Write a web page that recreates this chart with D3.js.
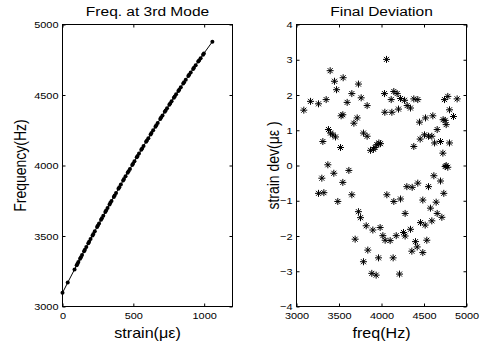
<!DOCTYPE html>
<html>
<head>
<meta charset="utf-8">
<script src="https://cdn.jsdelivr.net/npm/d3@7"></script>
<style>
  body { margin: 0; background: #fff; }
  svg text { font-family: "Liberation Sans", Arial, Helvetica, sans-serif; fill: #000; }
</style>
</head>
<body>
<div id="chart"></div>
<script>
// left panel: frequency of 3rd mode vs strain
const strainVals = [0, 37, 85, 100, 106, 112, 124, 130, 138, 152, 158, 168, 182, 188, 198, 212,
  218, 228, 244, 250, 258, 272, 278, 288, 302, 308, 318, 332, 338, 346, 362, 368, 378, 395,
  401, 412, 428, 434, 445, 460, 466, 476, 492, 498, 508, 524, 530, 540, 556, 562, 572, 590,
  596, 606, 622, 628, 640, 656, 662, 672, 690, 696, 706, 722, 728, 738, 754, 760, 770, 786,
  792, 802, 818, 824, 835, 852, 858, 870, 888, 894, 905, 922, 928, 940, 958, 964, 975, 992,
  998, 1058];
const freqVals = [3097, 3170, 3263, 3292, 3304, 3315, 3338, 3350, 3365, 3392, 3403, 3422, 3448,
  3459, 3478, 3504, 3515, 3534, 3563, 3574, 3589, 3615, 3626, 3644, 3670, 3681, 3698, 3724,
  3735, 3749, 3777, 3788, 3805, 3835, 3846, 3865, 3893, 3904, 3923, 3949, 3959, 3976, 4003,
  4013, 4031, 4058, 4068, 4085, 4111, 4121, 4138, 4168, 4178, 4194, 4220, 4230, 4250, 4275,
  4285, 4301, 4330, 4340, 4355, 4381, 4390, 4406, 4431, 4440, 4456, 4480, 4489, 4505, 4529,
  4538, 4555, 4581, 4590, 4608, 4634, 4643, 4660, 4685, 4694, 4711, 4737, 4745, 4761, 4786,
  4795, 4878];

// right panel: final strain deviation vs frequency
const devFreq = [3086, 3165, 3259, 3349, 3396, 3447, 3471, 3549, 3376, 3400, 3427, 3459, 3310,
  3518, 3525, 3545, 3596, 3651, 3729, 3761, 3831, 3675, 3714, 3788, 3831, 3871, 3906, 3925,
  3945, 3969, 3988, 4035, 4059, 4039, 4122, 4114, 4145, 4184, 4200, 4224, 4271, 4302, 4341,
  4380, 4427, 4447, 4518, 4604, 4741, 4780, 4890, 4380, 4455, 4506, 4553, 4592, 4655, 4624,
  4694, 4722, 4725, 4749, 4761, 4800, 4847, 4800, 4761, 4780, 3369, 3298, 3259, 3322, 3439,
  3486, 3545, 3616, 3651, 3729, 3753, 3690, 3820, 3898, 3984, 3788, 3839, 3886, 3937, 3965,
  4016, 4043, 4102, 4063, 4145, 4137, 4224, 4173, 4212, 4259, 4278, 4278, 4298, 4341, 4357,
  4361, 4400, 4420, 4427, 4459, 4486, 4486, 4514, 4533, 4553, 4576, 4592, 4616, 4643, 4655,
  4694, 4710, 4733, 4749];
const devVals = [1.57, 1.82, 1.75, 1.87, 2.69, 2.39, 2.15, 2.49, 1.02, 0.92, 0.87, 0.81, 0.68,
  0.51, 1.41, 1.44, 1.79, 2.04, 2.31, 1.92, 1.70, 1.20, 1.35, 0.92, 0.83, 0.43, 0.46, 0.51,
  0.59, 0.64, 0.62, 2.04, 3.01, 1.51, 1.51, 1.87, 2.10, 2.04, 1.60, 1.90, 1.85, 1.70, 1.63,
  1.89, 1.87, 1.23, 1.35, 1.41, 1.87, 1.96, 1.89, 0.54, 0.75, 0.87, 0.83, 0.83, 1.02, 0.64,
  0.68, 0.35, 1.30, 1.28, 1.16, 1.58, 1.39, 0.64, 0.00, -0.05, 0.02, -0.36, -0.79, -0.77,
  -0.22, -1.02, -0.48, -0.14, -0.83, -1.31, -1.48, -2.09, -1.71, -1.83, -1.76, -2.73, -2.40,
  -3.06, -3.11, -2.62, -1.99, -2.12, -2.13, -0.83, -1.02, -2.62, -0.95, -1.99, -3.08, -1.90,
  -2.00, -1.36, -0.60, -1.81, -2.43, -0.62, -2.16, -2.31, -0.50, -1.62, -2.47, -0.98, -1.69,
  -2.12, -0.60, -1.21, -1.57, -0.29, -1.04, -1.36, -0.44, -1.47, -0.79, -0.03];

const strainTicks = [0, 500, 1000];
const freqTicks = [3000, 3500, 4000, 4500, 5000];
const devFreqTicks = [3000, 3500, 4000, 4500, 5000];
const devTicks = [-4, -3, -2, -1, 0, 1, 2, 3, 4];

const W = 482, H = 343;
const SX = 1.15; // the picture is a little wider than tall, text looks stretched

const svg = d3.select('#chart').append('svg')
  .attr('width', W)
  .attr('height', H);

function stretch(sel, sx) {
  sel.each(function () {
    const t = d3.select(this);
    const x = +t.attr('x') || 0;
    const y = +t.attr('y') || 0;
    t.attr('x', 0).attr('y', 0)
      .attr('transform', `translate(${x},${y}) scale(${sx},1)`);
  });
}

function drawFrame(x, y, xTicks, yTicks, opts) {
  const g = svg.append('g');
  const [x0, x1] = x.range();
  const [y0, y1] = y.range();

  const axes = [
    { ax: d3.axisBottom(x).tickValues(xTicks), at: `translate(0,${y0})`, lab: true, pad: 6 },
    { ax: d3.axisTop(x).tickValues(xTicks), at: `translate(0,${y1})`, lab: false, pad: 4 },
    { ax: d3.axisLeft(y).tickValues(yTicks), at: `translate(${x0},0)`, lab: true, pad: 4 },
    { ax: d3.axisRight(y).tickValues(yTicks), at: `translate(${x1},0)`, lab: false, pad: 4 },
  ];
  axes.forEach((a) => {
    const ag = g.append('g')
      .attr('transform', a.at)
      .call(a.ax.tickSizeInner(-3).tickSizeOuter(0).tickPadding(a.pad)
        .tickFormat(a.lab ? d3.format('d') : ''));
    ag.select('.domain').remove();
    ag.selectAll('.tick line').attr('stroke', '#000');
    ag.selectAll('.tick text')
      .style('font-size', '9.5px')
      .attr('font-family', null);
    stretch(ag.selectAll('.tick text'), SX);
  });
  g.selectAll('.tick text').attr('fill', '#000');

  g.append('rect')
    .attr('x', x0)
    .attr('y', y1)
    .attr('width', x1 - x0)
    .attr('height', y0 - y1)
    .attr('fill', 'none')
    .attr('stroke', '#000')
    .attr('stroke-width', 1);

  const cx = (x0 + x1) / 2;
  const title = g.append('text')
    .attr('x', cx).attr('y', 16)
    .attr('text-anchor', 'middle')
    .style('font-size', '13.5px')
    .text(opts.title);
  stretch(title, SX);

  const xl = g.append('text')
    .attr('x', cx).attr('y', 338)
    .attr('text-anchor', 'middle')
    .style('font-size', '14px')
    .text(opts.xLabel);
  stretch(xl, SX);

  g.append('text')
    .attr('transform', `translate(${opts.yLabelX},${(y0 + y1) / 2}) rotate(-90) scale(1,${SX})`)
    .attr('text-anchor', 'middle')
    .attr('fill', '#000')
    .style('font-size', '14px')
    .text(opts.yLabel);
  return g;
}

// ---- left panel
const xL = d3.scaleLinear().domain([0, 1200]).range([62.5, 232.5]);
const yL = d3.scaleLinear().domain([3000, 5000]).range([306.5, 24.5]);
drawFrame(xL, yL, strainTicks, freqTicks, {
  title: 'Freq. at 3rd Mode',
  xLabel: 'strain(\u03bc\u03b5)',
  yLabel: 'Frequency(Hz)',
  yLabelX: 26,
});

const pts = strainVals.map((s, i) => [s, freqVals[i]]);
svg.append('path')
  .datum(pts)
  .attr('fill', 'none')
  .attr('stroke', '#000')
  .attr('stroke-width', 1)
  .attr('d', d3.line().x((d) => xL(d[0])).y((d) => yL(d[1])));
svg.append('g').selectAll('circle')
  .data(pts)
  .join('circle')
  .attr('cx', (d) => xL(d[0]))
  .attr('cy', (d) => yL(d[1]))
  .attr('r', 2)
  .attr('fill', '#000');

// ---- right panel
const xR = d3.scaleLinear().domain([3000, 5000]).range([296.5, 466.5]);
const yR = d3.scaleLinear().domain([-4, 4]).range([306.5, 24.5]);
drawFrame(xR, yR, devFreqTicks, devTicks, {
  title: 'Final Deviation',
  xLabel: 'freq(Hz)',
  yLabel: 'strain dev(\u03bc\u03b5 )',
  yLabelX: 279,
});

const star = 'M-3.5,0H3.5M0,-3.5V3.5M-2.5,-2.5L2.5,2.5M-2.5,2.5L2.5,-2.5';
svg.append('g').selectAll('path')
  .data(devFreq.map((f, i) => [f, devVals[i]]))
  .join('path')
  .attr('transform', (d) => `translate(${xR(d[0])},${yR(d[1])})`)
  .attr('d', star)
  .attr('fill', 'none')
  .attr('stroke', '#000')
  .attr('stroke-width', 1);
</script>
</body>
</html>
